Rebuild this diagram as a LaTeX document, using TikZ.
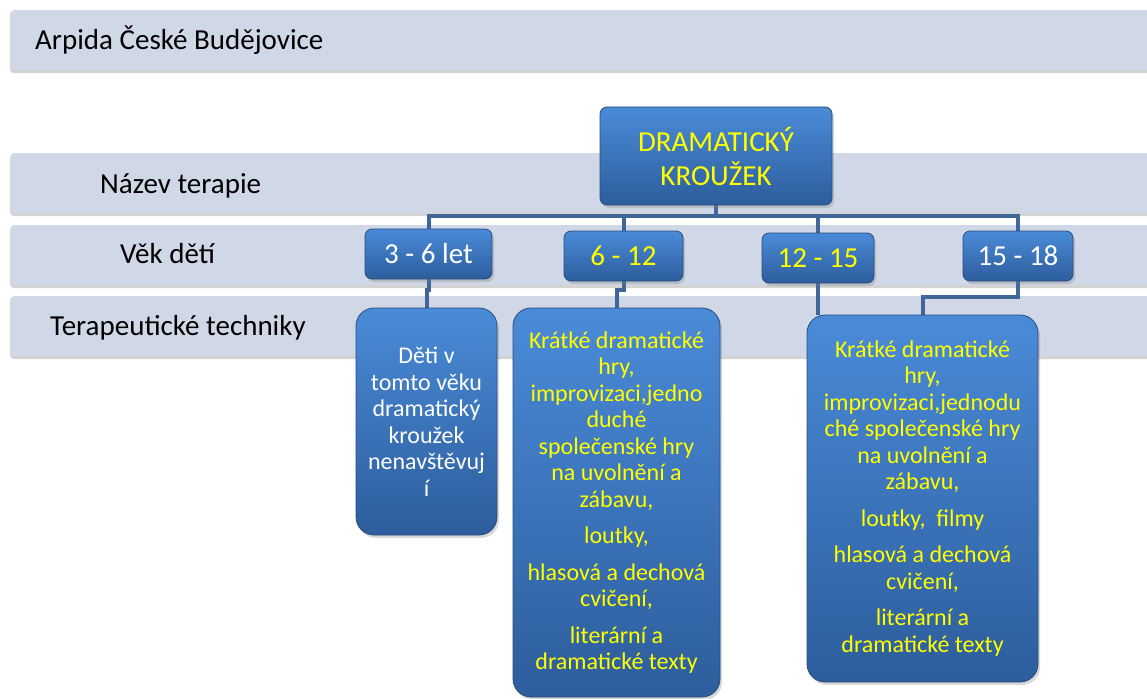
\documentclass[tikz,border=0pt]{standalone}
\usepackage{fontspec}
\setmainfont{Carlito}
\usetikzlibrary{positioning,shadows,backgrounds,calc}
\definecolor{bandcol}{HTML}{D0D8E7}
\definecolor{boxtop}{HTML}{4A8BD8}
\definecolor{boxbot}{HTML}{2D5D9C}
\definecolor{boxedge}{HTML}{2A4C7C}
\definecolor{conncol}{HTML}{41679A}
\definecolor{txtyellow}{HTML}{FFFF00}
\pgfdeclarelayer{bandlayer}
\pgfsetlayers{bandlayer,background,main}

\begin{document}
\begin{tikzpicture}[x=1pt,y=-1pt,
    band/.style={fill=bandcol, rounded corners=4pt, minimum width=1160pt, minimum height=60pt, inner sep=0pt,
        drop shadow={shadow xshift=0pt, shadow yshift=-3pt, opacity=0.35}},
    bandtext/.style={black, inner sep=0pt, font=\fontsize{29}{34}\selectfont},
    box/.style={draw=boxedge, line width=0.8pt, rounded corners=7pt, top color=boxtop, bottom color=boxbot,
        align=center, inner sep=0pt, drop shadow={shadow xshift=2pt, shadow yshift=-3pt, opacity=0.3}},
    agebox/.style={box, font=\fontsize{29}{34}\selectfont},
    techbox/.style={box, rounded corners=18pt, font=\fontsize{24}{26.5}\selectfont},
    conn/.style={draw=conncol, line width=4pt}]
    \useasboundingbox (0,0) rectangle (1147,698);

    % bands
    \begin{pgfonlayer}{bandlayer}
        \foreach \y/\name in {10/arpida,153/nazev,225/vek,296/techniky}{\node[band, anchor=north west] (\name) at (10,\y) {};}
    \end{pgfonlayer}
    \node[bandtext, anchor=base west] (arpidaTxt) at (35,50) {Arpida České Budějovice};
    \node[bandtext, anchor=base west] (nazevTxt) at (100,193) {Název terapie};
    \node[bandtext, anchor=base west] (vekTxt) at (120,263) {Věk dětí};
    \node[bandtext, anchor=base west] (technikyTxt) at (50,335) {Terapeutické techniky};

    % boxes
    \node[agebox, text=txtyellow, minimum width=232pt, minimum height=98pt] (krouzek) at (716,156) {DRAMATICKÝ\\KROUŽEK};
    \foreach \x/\y/\w/\name/\col/\txt in {428.5/254/127/age1/white/3 - 6 let, 623.5/256/119/age2/txtyellow/6 - 12,
        818/258/112/age3/txtyellow/12 - 15, 1018/256/110/age4/white/15 - 18}
        {\node[agebox, text=\col, minimum width=\w pt, minimum height=50pt] (\name) at (\x,\y) {\txt};}

    \node[techbox, text=white, minimum width=141pt, minimum height=227pt] (tech1) at (426.5,421.5)
        {Děti v\\tomto věku\\dramatický\\kroužek\\nenavštěvuj\\í};
    \node[techbox, text=txtyellow, minimum width=207pt, minimum height=389pt] (tech2) at (616.5,502.5)
        {Krátké dramatické\\hry,\\improvizaci,jedno\\duché\\společenské hry\\na uvolnění a\\zábavu,\\[10pt]
         loutky,\\[10pt]hlasová a dechová\\cvičení,\\[10pt]literární a\\dramatické texty};
    \node[techbox, text=txtyellow, minimum width=231pt, minimum height=367pt] (tech3) at (922.5,498.5)
        {Krátké dramatické\\hry,\\improvizaci,jednodu\\ché společenské hry\\na uvolnění a\\zábavu,\\[10pt]
         loutky,~~filmy\\[10pt]hlasová a dechová\\cvičení,\\[10pt]literární a\\dramatické texty};

    % connectors
    \begin{scope}[on background layer]
        \foreach \name in {age1,age2,age3,age4}{\draw[conn] (krouzek.south) -- ++(0,11) -| (\name.north);}
        \draw[conn] (age1.south) -- ++(0,11) -| (tech1.north);
        \draw[conn] (age2.south) -- ++(0,9) -| (tech2.north);
        \draw[conn] (age3.south) -- (age3.south |- tech3.north);
        \draw[conn] (age4.south) -- ++(0,16) -| (tech3.north);
    \end{scope}
\end{tikzpicture}
\end{document}
